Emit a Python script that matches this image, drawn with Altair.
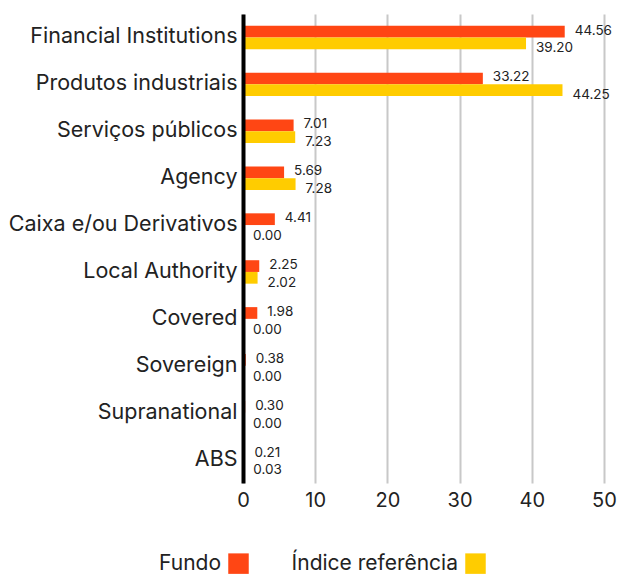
import altair as alt
import pandas as pd

categories = ["Financial Institutions", "Produtos industriais", "Serviços públicos", "Agency",
              "Caixa e/ou Derivativos", "Local Authority", "Covered", "Sovereign",
              "Supranational", "ABS"]
fundo = [44.56, 33.22, 7.01, 5.69, 4.41, 2.25, 1.98, 0.38, 0.30, 0.21]
indice = [39.20, 44.25, 7.23, 7.28, 0.00, 2.02, 0.00, 0.00, 0.00, 0.03]
series = ["Fundo", "Índice referência"]
colors = ["#FF4614", "#FFCC00"]

rows = []
for c, f, i in zip(categories, fundo, indice):
    rows.append({"cat": c, "serie": series[0], "val": f, "lab": f"{f:.2f}"})
    rows.append({"cat": c, "serie": series[1], "val": i, "lab": f"{i:.2f}"})
df = pd.DataFrame(rows)

FONT = "Inter"

y = alt.Y("cat:N", sort=categories, title=None,
          scale=alt.Scale(paddingInner=0.5, paddingOuter=0.25),
          axis=alt.Axis(labelFontSize=21.5, labelColor="#222", labelFont=FONT,
                        labelPadding=6, labelLimit=400, ticks=False, domainColor="#000",
                        domainWidth=4, grid=False, zindex=2))
x = alt.X("val:Q", title=None, scale=alt.Scale(domain=[0, 50], nice=False),
          axis=alt.Axis(values=[0, 10, 20, 30, 40, 50], labelFontSize=20,
                        labelColor="#222", labelFont=FONT, labelPadding=7,
                        ticks=False, domain=False, grid=True, gridColor="#c8c8c8",
                        gridWidth=2, labelFlush=False))
yoff = alt.YOffset("serie:N", sort=series, scale=alt.Scale(paddingInner=0, paddingOuter=0))
color = alt.Color("serie:N", sort=series, title=None,
                  scale=alt.Scale(domain=series, range=colors),
                  legend=alt.Legend(orient="none", legendX=-15, legendY=539,
                                    direction="horizontal", symbolType="square",
                                    symbolSize=420, symbolStrokeWidth=0,
                                    labelFontSize=21, labelColor="#222",
                                    labelFont=FONT, labelAlign="right", labelLimit=400,
                                    labelOffset={"expr": "-28"}, columnPadding=42))

base = alt.Chart(df)
bars = base.mark_bar().encode(y=y, x=x, yOffset=yoff, color=color)

def label_layer(name, dy):
    return base.transform_filter(alt.datum.serie == name).mark_text(
        align="left", baseline="middle", dx=10, dy=dy,
        fontSize=13.5, color="#222", font=FONT).encode(
        y=alt.Y("cat:N", sort=categories), x="val:Q", yOffset=yoff, text="lab:N")

chart = alt.layer(bars, label_layer(series[0], -1), label_layer(series[1], 5)).resolve_scale(
    yOffset="shared").properties(
    width=361, height=469,
    autosize=alt.AutoSizeParams(type="none"),
    padding={"left": 243, "top": 14, "right": 13, "bottom": 91},
).configure_view(stroke=None)

chart.save("out.html", embed_options={"renderer": "svg", "actions": False})
